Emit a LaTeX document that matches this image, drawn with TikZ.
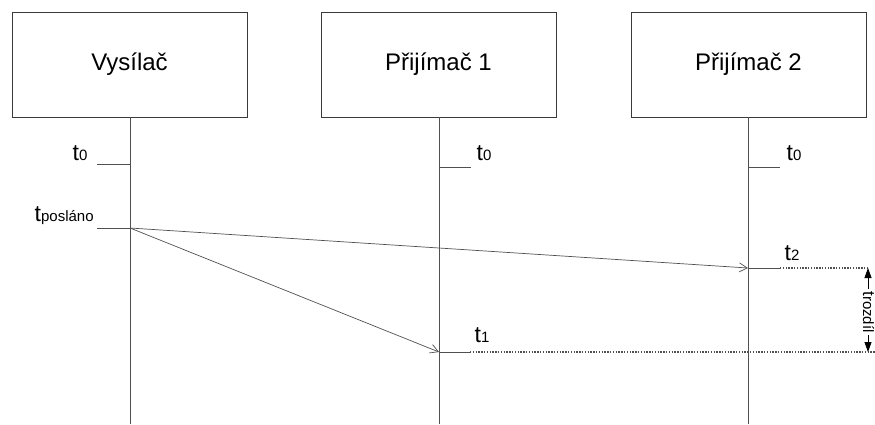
\documentclass[tikz,border=0pt]{standalone}
\usepackage{fontspec}
\setmainfont{Liberation Sans}
\usetikzlibrary{arrows.meta}
\definecolor{boxline}{HTML}{3A3A3A}
\definecolor{lifeline}{HTML}{505050}
\newcommand{\tsub}[1]{{\fontsize{23}{26}\selectfont t}{\fontsize{15}{18}\selectfont #1}}
\begin{document}
\begin{tikzpicture}[x=1pt,y=-1pt,
  party/.style={draw=boxline,line width=0.8pt,minimum width=235pt,minimum height=105pt,
    inner sep=0pt,font=\fontsize{24}{28}\selectfont},
  life/.style={draw=lifeline,line width=0.8pt},
  tick/.style={draw=lifeline,line width=0.8pt},
  msg/.style={draw=lifeline,line width=0.7pt,-{Straight Barb[length=8pt,width=9pt,line width=0.7pt]}},
  dotline/.style={draw=lifeline,line width=1.4pt,dash pattern=on 1.4pt off 1.4pt},
  lbl/.style={inner sep=0pt,anchor=base west}]
\useasboundingbox (0,0) rectangle (875,424);

% participants
\node[party] (snd) at (129.5,64.5) {Vysílač};
\node[party] (rc1) at (438.5,64.5) {Přijímač 1};
\node[party] (rc2) at (748.5,64.5) {Přijímač 2};

% lifelines
\coordinate (sndE) at (130,424);
\coordinate (rc1E) at (439,424);
\coordinate (rc2E) at (748,424);
\draw[life] (snd.south -| sndE) -- (sndE);
\draw[life] (rc1.south -| rc1E) -- (rc1E);
\draw[life] (rc2.south -| rc2E) -- (rc2E);

% start times
\coordinate (s0a) at (97,164);  \coordinate (s0b) at (130,164);
\coordinate (a0a) at (439,167); \coordinate (a0b) at (471,167);
\coordinate (b0a) at (748,167); \coordinate (b0b) at (780,167);
\draw[tick] (s0a) -- (s0b);
\draw[tick] (a0a) -- (a0b);
\draw[tick] (b0a) -- (b0b);
\node[lbl] (ls0) at (72.5,160) {\tsub{0}};
\node[lbl] (la0) at (476.5,160) {\tsub{0}};
\node[lbl] (lb0) at (786.5,160) {\tsub{0}};

% send time
\coordinate (sp) at (130,228); \coordinate (spa) at (97,228);
\draw[tick] (spa) -- (sp);
\node[lbl] (lsp) at (34.5,221) {\tsub{posláno}};

% receive times
\coordinate (r2) at (748,268); \coordinate (r2t) at (780,268); \coordinate (r2d) at (868,268);
\coordinate (r1) at (439,352); \coordinate (r1t) at (470,352); \coordinate (r1d) at (875,352);
\draw[msg] (sp) -- (r2);
\draw[msg] (sp) -- (r1);
\draw[tick] (r2) -- (r2t);
\draw[tick] (r1) -- (r1t);
\draw[dotline] (r2t) -- (r2d);
\draw[dotline] (r1t) -- (r1d);
\node[lbl] (l2) at (784.5,260) {\tsub{2}};
\node[lbl] (l1) at (474.5,342) {\tsub{1}};

% difference
\coordinate (dTop) at (868,268); \coordinate (dBot) at (868,352);
\draw[draw=black,line width=0.8pt,{Triangle[length=10pt,width=7pt]}-{Triangle[length=10pt,width=7pt]}] (dTop) -- (dBot);
\node[fill=white,inner xsep=2pt,inner ysep=1pt,rotate=-90] (ld) at (868.5,312)
  {{\fontsize{17}{19}\selectfont t}{\fontsize{15}{17}\selectfont rozdíl}};
\end{tikzpicture}
\end{document}
